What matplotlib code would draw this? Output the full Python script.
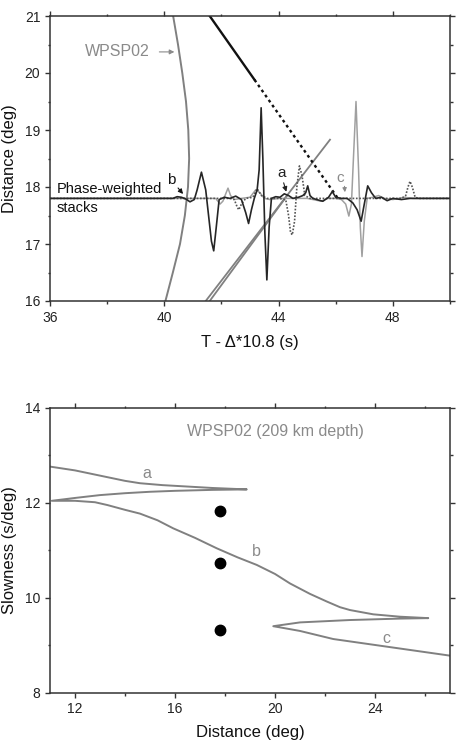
#!/usr/bin/env python
"""phase-weighted stacks and slowness curves for WPSP02"""

import numpy as np
import matplotlib
matplotlib.use('Agg')
import matplotlib.pyplot as plt
from matplotlib.ticker import MultipleLocator

plt.rcParams['font.family'] = ['Liberation Sans', 'DejaVu Sans']

# ---------------- top panel data ----------------
# reduced travel time curve (t, distance)
wpsp_t = [40.04, 40.30, 40.55, 40.72, 40.83, 40.87, 40.84, 40.76, 40.63, 40.48, 40.31]
wpsp_d = [16.0, 16.5, 17.0, 17.5, 18.0, 18.5, 19.0, 19.5, 20.0, 20.5, 21.0]

# black moveout line (solid part, dotted part)
move_solid_t = [41.59, 43.16]
move_solid_d = [21.0, 19.88]
move_dot_t = [43.16, 46.05]
move_dot_d = [19.88, 17.82]

# gray double line
gray1_t = [41.45, 45.80]
gray1_d = [16.0, 18.83]
gray2_t = [41.59, 44.30]
gray2_d = [16.0, 17.85]

# phase-weighted stacks
black_t = [36.0, 40.3, 40.45, 40.6, 40.75, 40.9, 41.05, 41.15, 41.3, 41.45, 41.55,
           41.65, 41.73, 41.82, 41.92, 42.1, 42.3, 42.5, 42.7, 42.85, 42.95, 43.05,
           43.15, 43.25, 43.32, 43.39, 43.45, 43.52, 43.59, 43.67, 43.75, 43.9, 44.05,
           44.2, 44.35, 44.5, 44.7, 44.85, 44.95, 45.02, 45.1, 45.2, 45.4, 45.55,
           45.75, 45.88, 46.0, 46.2, 46.4, 46.6, 46.75, 46.89, 47.0, 47.12, 47.25,
           47.4, 47.6, 47.8, 48.0, 48.3, 48.6, 49.0, 50.0]
black_d = [17.8, 17.8, 17.83, 17.82, 17.79, 17.74, 17.78, 17.95, 18.26, 17.95, 17.5,
           17.05, 16.88, 17.3, 17.78, 17.82, 17.8, 17.84, 17.78, 17.55, 17.36, 17.6,
           17.8, 17.95, 18.3, 19.39, 18.5, 17.2, 16.37, 17.3, 17.8, 17.83, 17.82,
           17.88, 17.85, 17.8, 17.82, 17.85, 17.9, 18.02, 17.85, 17.8, 17.77, 17.75,
           17.82, 17.92, 17.82, 17.8, 17.8, 17.72, 17.6, 17.4, 17.7, 18.02, 17.9,
           17.8, 17.82, 17.76, 17.8, 17.78, 17.8, 17.8, 17.8]

gray_t = [36.0, 41.8, 41.95, 42.05, 42.15, 42.23, 42.32, 42.45, 42.7, 43.0, 43.2,
          43.35, 43.5, 43.7, 44.0, 45.0, 45.5, 45.7, 46.0, 46.2, 46.35, 46.46, 46.55,
          46.62, 46.71, 46.8, 46.86, 46.92, 47.0, 47.1, 47.3, 47.5, 47.7, 48.0, 48.4,
          48.7, 50.0]
gray_d = [17.8, 17.8, 17.7, 17.75, 17.88, 17.98, 17.85, 17.78, 17.8, 17.82, 17.95,
          17.9, 17.8, 17.78, 17.8, 17.8, 17.75, 17.8, 17.8, 17.78, 17.7, 17.49, 17.7,
          18.5, 19.5, 18.3, 17.3, 16.78, 17.4, 17.8, 17.82, 17.85, 17.8, 17.78, 17.82,
          17.8, 17.8]

dot_t = [36.0, 42.3, 42.45, 42.55, 42.61, 42.7, 42.85, 43.1, 43.25, 43.4, 43.6, 44.0,
         44.25, 44.35, 44.42, 44.48, 44.56, 44.64, 44.73, 44.82, 44.92, 45.1, 45.5,
         46.0, 47.0, 48.3, 48.45, 48.53, 48.6, 48.68, 48.78, 48.9, 50.0]
dot_d = [17.8, 17.8, 17.78, 17.65, 17.6, 17.7, 17.8, 17.82, 17.97, 17.85, 17.8, 17.8,
         17.78, 17.5, 17.2, 17.16, 17.4, 18.0, 18.37, 18.2, 17.85, 17.8, 17.8,
         17.8, 17.8, 17.8, 17.85, 18.0, 18.1, 18.0, 17.82, 17.8, 17.8]

# ---------------- bottom panel data ----------------
traj_dist = [11.0, 12.0, 13.0, 14.0, 14.6, 15.5, 16.5, 17.5, 18.87,
             17.5, 16.0, 15.0, 14.0, 13.0, 12.0, 11.07,
             12.0, 12.8, 13.3, 14.0, 14.6, 15.3, 15.93, 16.8, 17.67, 18.5, 19.27,
             20.0, 20.6, 21.4, 22.07, 22.6, 23.0, 23.93, 25.0, 26.13,
             25.0, 23.0, 21.0, 19.93,
             20.47, 21.0, 22.33, 24.33, 27.0]
traj_slow = [12.76, 12.68, 12.57, 12.46, 12.41, 12.37, 12.34, 12.31, 12.28,
             12.27, 12.25, 12.23, 12.20, 12.16, 12.10, 12.04,
             12.04, 12.01, 11.95, 11.85, 11.77, 11.63, 11.46, 11.26, 11.04, 10.85, 10.69,
             10.50, 10.30, 10.08, 9.92, 9.80, 9.74, 9.65, 9.60, 9.57,
             9.56, 9.53, 9.48, 9.40,
             9.35, 9.30, 9.13, 8.98, 8.78]

obs_dist = [17.8, 17.8, 17.8]
obs_slow = [11.83, 10.74, 9.33]

GRAY = '#808080'
TXTGRAY = '#8a8a8a'
AXCOL = '#333333'


def styleAxes(ax):
    for s in ax.spines.values():
        s.set_linewidth(1.1)
        s.set_color(AXCOL)
    ax.tick_params(which='both', direction='out', top=True, right=True,
                   colors=AXCOL, labelcolor='#222222', labelsize=10, width=1.0)
    ax.tick_params(which='major', length=3.5)
    ax.tick_params(which='minor', length=1.8)


fig = plt.figure(figsize=(4.6, 7.42), dpi=100)

# ======================= top =======================
ax = fig.add_axes([50/460, 441/742, 400/460, 285/742])
ax.plot(wpsp_t, wpsp_d, '-', color=GRAY, lw=1.4)
ax.plot(gray1_t, gray1_d, '-', color=GRAY, lw=1.3)
ax.plot(gray2_t, gray2_d, '-', color=GRAY, lw=1.3)
ax.plot(move_solid_t, move_solid_d, '-', color='#111111', lw=1.7)
ax.plot(move_dot_t, move_dot_d, color='#111111', lw=1.7, linestyle=(0, (1.2, 1.4)))

ax.plot(gray_t, gray_d, '-', color='#a0a0a0', lw=1.1)
ax.plot(dot_t, dot_d, color='#555555', lw=1.2, linestyle=(0, (1, 1)))
ax.plot(black_t, black_d, '-', color='#262626', lw=1.2)

ax.text(37.22, 20.37, 'WPSP02', color=TXTGRAY, fontsize=11.5, va='center', ha='left')
ax.annotate('', xy=(40.45, 20.37), xytext=(39.73, 20.37),
            arrowprops=dict(arrowstyle='-|>', color=TXTGRAY, lw=0.8, mutation_scale=7))
ax.text(36.23, 17.97, 'Phase-weighted', fontsize=10.5, va='center', ha='left', color='#111111')
ax.text(36.23, 17.63, 'stacks', fontsize=10.5, va='center', ha='left', color='#111111')

ax.text(40.25, 18.12, 'b', fontsize=11, va='center', ha='center', color='#111111')
ax.annotate('', xy=(40.72, 17.84), xytext=(40.42, 18.02),
            arrowprops=dict(arrowstyle='-|>', color='#111111', lw=0.8, mutation_scale=7))
ax.text(44.09, 18.25, 'a', fontsize=11, va='center', ha='center', color='#222222')
ax.annotate('', xy=(44.3, 17.87), xytext=(44.15, 18.12),
            arrowprops=dict(arrowstyle='-|>', color='#222222', lw=0.8, mutation_scale=7))
ax.text(46.15, 18.16, 'c', fontsize=11, va='center', ha='center', color=TXTGRAY)
ax.annotate('', xy=(46.33, 17.86), xytext=(46.3, 18.06),
            arrowprops=dict(arrowstyle='-|>', color=TXTGRAY, lw=0.8, mutation_scale=6))

ax.set_xlim(36, 50)
ax.set_ylim(16, 21)
ax.xaxis.set_major_locator(MultipleLocator(4))
ax.xaxis.set_minor_locator(MultipleLocator(2))
ax.yaxis.set_major_locator(MultipleLocator(1))
ax.yaxis.set_minor_locator(MultipleLocator(0.5))
styleAxes(ax)
ax.set_xlabel('T - \u0394*10.8 (s)', fontsize=12, color='#111111')
ax.xaxis.set_label_coords(0.5, -0.12)
ax.set_ylabel('Distance (deg)', fontsize=12, color='#111111')
ax.yaxis.set_label_coords(-0.083, 0.5)

# ======================= bottom =======================
bx = fig.add_axes([50/460, 49.3/742, 400/460, 285/742])
bx.plot(traj_dist, traj_slow, '-', color=GRAY, lw=1.4)
bx.plot(obs_dist, obs_slow, 'o', color='black', markersize=7.5)

bx.text(20.0, 13.49, 'WPSP02 (209 km depth)', color=TXTGRAY, fontsize=11.5,
        ha='center', va='center')
bx.text(14.87, 12.62, 'a', color=TXTGRAY, fontsize=11.5, ha='center', va='center')
bx.text(19.27, 10.97, 'b', color=TXTGRAY, fontsize=11.5, ha='center', va='center')
bx.text(24.47, 9.15, 'c', color=TXTGRAY, fontsize=11.5, ha='center', va='center')

bx.set_xlim(11, 27)
bx.set_ylim(8, 14)
bx.xaxis.set_major_locator(MultipleLocator(4))
bx.xaxis.set_minor_locator(MultipleLocator(2))
bx.yaxis.set_major_locator(MultipleLocator(2))
bx.yaxis.set_minor_locator(MultipleLocator(1))
styleAxes(bx)
bx.set_xlabel('Distance (deg)', fontsize=12, color='#111111')
bx.xaxis.set_label_coords(0.5, -0.115)
bx.set_ylabel('Slowness (s/deg)', fontsize=12, color='#111111')
bx.yaxis.set_label_coords(-0.083, 0.5)

fig.savefig('out.png', dpi=100)
